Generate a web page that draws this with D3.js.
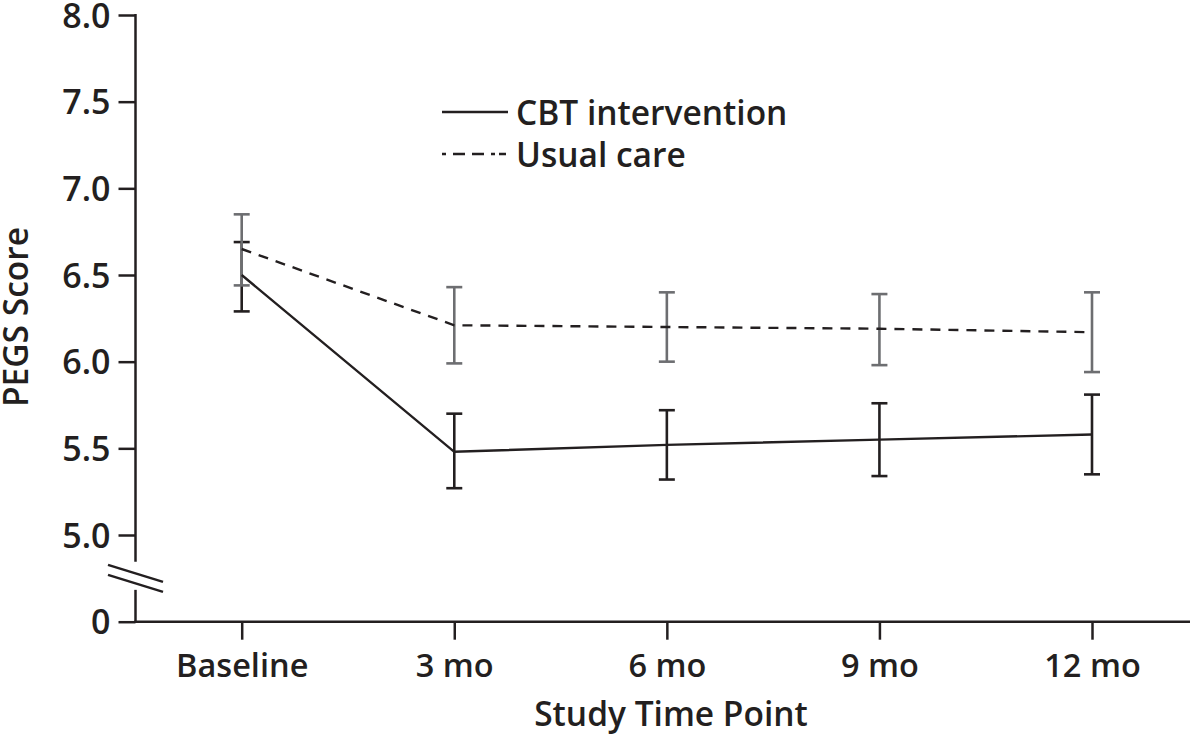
<!DOCTYPE html>
<html>
<head>
<meta charset="utf-8">
<script src="https://cdn.jsdelivr.net/npm/d3@7/dist/d3.min.js"></script>
<style>
  html, body { margin: 0; padding: 0; background: #fff; }
  svg { display: block; }
  text { font-family: "Open Sans", "Noto Sans", sans-serif; font-weight: 600; fill: #231f20; }
</style>
</head>
<body>
<svg id="chart" width="1200" height="735"></svg>
<script>
// ---- data ----
const categories = ["Baseline", "3 mo", "6 mo", "9 mo", "12 mo"];
const cbtMean  = [6.50, 5.48, 5.52, 5.55, 5.58];
const cbtLow   = [6.29, 5.27, 5.32, 5.34, 5.35];
const cbtHigh  = [6.69, 5.70, 5.72, 5.76, 5.81];
const ucMean   = [6.65, 6.21, 6.20, 6.19, 6.17];
const ucLow    = [6.44, 5.99, 6.00, 5.98, 5.94];
const ucHigh   = [6.85, 6.43, 6.40, 6.39, 6.40];
const yTicks   = [0, 5.0, 5.5, 6.0, 6.5, 7.0, 7.5, 8.0];
const yTickLabels = ["0", "5.0", "5.5", "6.0", "6.5", "7.0", "7.5", "8.0"];
const seriesNames = ["CBT intervention", "Usual care"];
const xTitle = "Study Time Point";
const yTitle = "PEGS Score";

const ink = "#231f20";
const gray = "#6d6e71";

const svg = d3.select("#chart");
const axisX = 135.5;
const axisY = 621.7;

// piecewise scale with broken axis between 0 and 5.0
const y = d3.scaleLinear().domain([0, 5, 8]).range([axisY, 535, 15]);
const x = d3.scalePoint().domain(categories).range([241.7, 1092]);

// ---- y axis ----
const yAxis = d3.axisLeft(y).tickValues(yTicks)
  .tickFormat((d, i) => yTickLabels[i]).tickSize(17).tickPadding(8);
const gy = svg.append("g").attr("transform", `translate(${axisX},0)`).call(yAxis);
gy.select(".domain").remove();
gy.selectAll(".tick line").attr("stroke", ink).attr("stroke-width", 2.5);
gy.selectAll(".tick text").attr("font-size", 34).attr("dy", "0.36em")
  .style("font-family", '"Open Sans", sans-serif').style("font-weight", 600).attr("fill", ink);

// axis segments with break
const breakMid = (y(0) + y(5)) / 2;
svg.append("line").attr("x1", axisX).attr("x2", axisX).attr("y1", y(8) - 1).attr("y2", breakMid - 16.5)
  .attr("stroke", ink).attr("stroke-width", 2.5);
svg.append("line").attr("x1", axisX).attr("x2", axisX).attr("y1", breakMid + 11.5).attr("y2", axisY)
  .attr("stroke", ink).attr("stroke-width", 2.5);
[-5, 5].forEach(off => {
  svg.append("line")
    .attr("x1", axisX - 27.5).attr("y1", breakMid + off - 8.5)
    .attr("x2", axisX + 27.5).attr("y2", breakMid + off + 8.5)
    .attr("stroke", ink).attr("stroke-width", 2.5);
});

// ---- x axis ----
const xAxis = d3.axisBottom(x).tickSizeInner(18).tickSizeOuter(0).tickPadding(12);
const gx = svg.append("g").attr("transform", `translate(0,${axisY})`).call(xAxis);
gx.select(".domain").remove();
gx.selectAll(".tick line").attr("stroke", ink).attr("stroke-width", 2.5);
gx.selectAll(".tick text").attr("font-size", 32.5).attr("y", 55).attr("dy", 0)
  .style("font-family", '"Open Sans", sans-serif').style("font-weight", 600).attr("fill", ink);
svg.append("line").attr("x1", axisX - 1.2).attr("x2", 1190).attr("y1", axisY).attr("y2", axisY)
  .attr("stroke", ink).attr("stroke-width", 2.5);

// ---- titles ----
svg.append("text").attr("x", 671).attr("y", 726).attr("text-anchor", "middle")
  .attr("font-size", 33.5).text(xTitle);
svg.append("text").attr("transform", "translate(28,317) rotate(-90)").attr("text-anchor", "middle")
  .attr("font-size", 33.5).text(yTitle);

// ---- error bars ----
function errorBars(low, high, color) {
  const g = svg.append("g").attr("stroke", color).attr("stroke-width", 2.6).attr("fill", "none");
  categories.forEach((c, i) => {
    const cx = x(c);
    g.append("line").attr("x1", cx).attr("x2", cx).attr("y1", y(high[i])).attr("y2", y(low[i]));
    g.append("line").attr("x1", cx - 8).attr("x2", cx + 8).attr("y1", y(high[i])).attr("y2", y(high[i]));
    g.append("line").attr("x1", cx - 8).attr("x2", cx + 8).attr("y1", y(low[i])).attr("y2", y(low[i]));
  });
}
errorBars(cbtLow, cbtHigh, ink);
errorBars(ucLow, ucHigh, gray);

// ---- lines ----
const line = d3.line().x((d, i) => x(categories[i])).y(d => y(d));
svg.append("path").datum(cbtMean).attr("d", line).attr("fill", "none")
  .attr("stroke", ink).attr("stroke-width", 2.4);
svg.append("path").datum(ucMean).attr("d", line).attr("fill", "none")
  .attr("stroke", ink).attr("stroke-width", 2.4).attr("stroke-dasharray", "10,8");

// ---- legend ----
const lg = svg.append("g");
lg.append("line").attr("x1", 442).attr("x2", 508).attr("y1", 112).attr("y2", 112)
  .attr("stroke", ink).attr("stroke-width", 2.4);
lg.append("line").attr("x1", 442).attr("x2", 508).attr("y1", 154).attr("y2", 154)
  .attr("stroke", ink).attr("stroke-width", 2.4).attr("stroke-dasharray", "4,7,12,7,12,7,4");
lg.append("text").attr("x", 516).attr("y", 124.5).attr("font-size", 33.5).text(seriesNames[0]);
lg.append("text").attr("x", 516).attr("y", 166.5).attr("font-size", 33.5).text(seriesNames[1]);
</script>
</body>
</html>
